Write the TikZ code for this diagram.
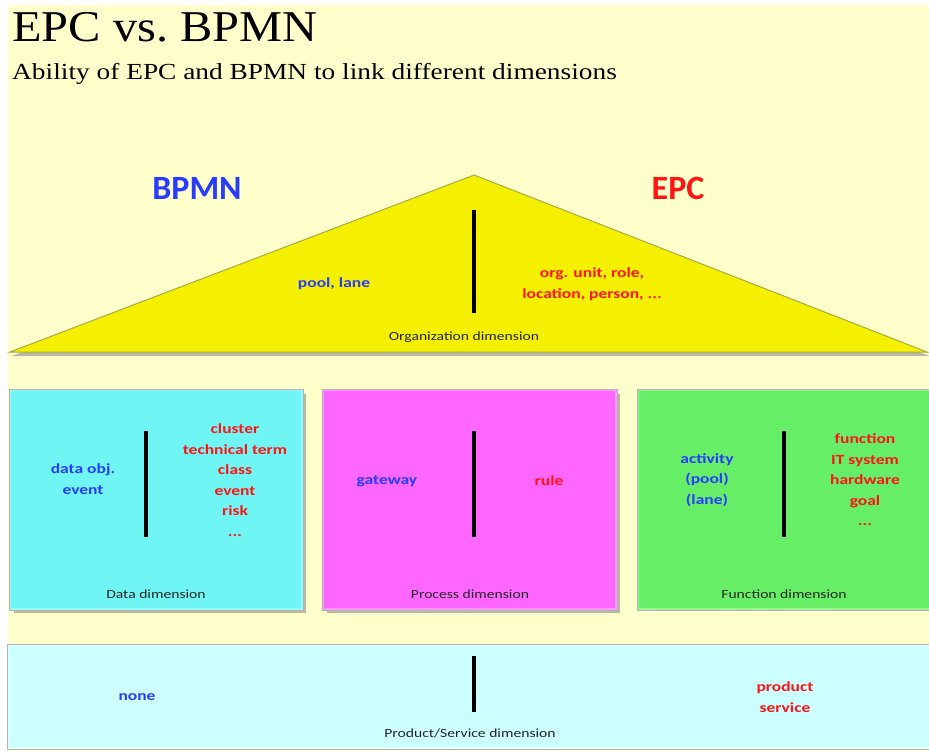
\documentclass[tikz,border=0pt]{standalone}
\usepackage{fontspec}
\setmainfont{Liberation Serif}
\newfontfamily\labelfont[FakeStretch=1.25]{Carlito}
\newfontfamily\headfont{Carlito}
\usetikzlibrary{positioning}

\definecolor{pagebg}{RGB}{255,255,204}
\definecolor{orgfill}{RGB}{245,240,0}
\definecolor{orgline}{RGB}{170,170,70}
\definecolor{datafill}{RGB}{112,245,245}
\definecolor{dataline}{RGB}{150,250,250}
\definecolor{procfill}{RGB}{255,102,255}
\definecolor{procline}{RGB}{255,150,255}
\definecolor{funcfill}{RGB}{102,238,102}
\definecolor{funcline}{RGB}{150,245,150}
\definecolor{prodfill}{RGB}{204,255,255}
\definecolor{prodline}{RGB}{225,255,255}
\definecolor{bpmnblue}{RGB}{40,60,255}
\definecolor{epcred}{RGB}{255,20,20}
\definecolor{shadowgray}{RGB}{185,185,160}

\tikzset{
  dimbox/.style={line width=2pt},
  boxedge/.style={draw=gray!60, line width=0.6pt},
  divider/.style={line width=4pt, black},
  bpmntext/.style={text=bpmnblue, font=\labelfont\bfseries\fontsize{14}{20.5}\selectfont, align=center, inner sep=0pt},
  epctext/.style={text=epcred, font=\labelfont\bfseries\fontsize{14}{20.5}\selectfont, align=center, inner sep=0pt},
  dimlabel/.style={text=black!85, font=\labelfont\fontsize{12.5}{14}\selectfont, inner sep=0pt},
  headlabel/.style={font=\headfont\bfseries\fontsize{34}{38}\selectfont, inner sep=0pt},
}

\begin{document}
\begin{tikzpicture}[x=1pt,y=-1pt]
\useasboundingbox (0,0) rectangle (929,751);
\fill[white] (0,0) rectangle (929,751);
\fill[pagebg] (8,5) rectangle (929,751);

% headings
\node[anchor=base west, inner sep=0pt, font=\fontsize{44}{48}\selectfont, xscale=1.10] (title) at (12,42) {EPC vs.\ BPMN};
\node[anchor=base west, inner sep=0pt, font=\fontsize{23}{26}\selectfont, xscale=1.19] (subtitle) at (12,80) {Ability of EPC and BPMN to link different dimensions};

\node[headlabel, text=bpmnblue] (bpmn) at (197,188) {BPMN};
\node[headlabel, text=epcred] (epc) at (678,188) {EPC};

% organization dimension (triangle)
\fill[shadowgray] (12,356) -- (474,179) -- (929,356) -- cycle;
\filldraw[fill=orgfill, draw=orgline, line width=1pt] (10,352) -- (474,175) -- (927,352) -- cycle;
\draw[divider] (474,210) -- (474,313);
\node[bpmntext] (orgb) at (334,284) {pool, lane};
\node[epctext] (orge) at (592,284) {org. unit, role,\\location, person, ...};
\node[dimlabel] (orgd) at (464,337) {Organization dimension};

% data dimension
\fill[shadowgray] (14,394) rectangle (306,613);
\filldraw[fill=datafill, draw=dataline, dimbox] (10,390) rectangle (302,609);
\draw[boxedge] (9,389) rectangle (303,610);
\draw[divider] (146,431) -- (146,537);
\node[bpmntext] (datab) at (83,479) {data obj.\\event};
\node[epctext] (datae) at (235,480) {cluster\\technical term\\class\\event\\risk\\...};
\node[dimlabel] (datad) at (156,594) {Data dimension};

% process dimension
\fill[shadowgray] (327,394) rectangle (620,613);
\filldraw[fill=procfill, draw=procline, dimbox] (323,390) rectangle (616,609);
\draw[boxedge] (322,389) rectangle (617,610);
\draw[divider] (474,431) -- (474,537);
\node[bpmntext] (procb) at (387,481) {gateway};
\node[epctext] (proce) at (549,481) {rule};
\node[dimlabel] (procd) at (470,594) {Process dimension};

% function dimension
\filldraw[fill=funcfill, draw=funcline, dimbox] (638,390) rectangle (930,609);
\draw[boxedge] (637,389) rectangle (931,610);
\draw[divider] (784,431) -- (784,537);
\node[bpmntext] (funcb) at (707,480) {activity\\(pool)\\(lane)};
\node[epctext] (funce) at (865,480) {function\\IT system\\hardware\\goal\\...};
\node[dimlabel] (funcd) at (784,594) {Function dimension};

% product/service dimension
\filldraw[fill=prodfill, draw=prodline, dimbox] (8,645) rectangle (931,748);
\draw[boxedge] (7,644) rectangle (932,749);
\draw[divider] (474,656) -- (474,712);
\node[bpmntext] (prodb) at (137,697) {none};
\node[epctext] (prode) at (785,697) {product\\service};
\node[dimlabel] (prodd) at (470,733) {Product/Service dimension};
\end{tikzpicture}
\end{document}
